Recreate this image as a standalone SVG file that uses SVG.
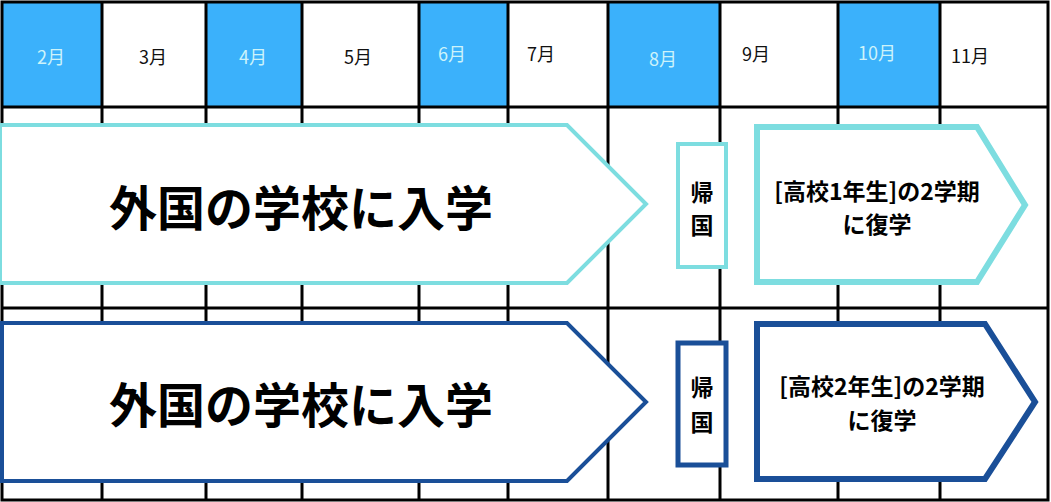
<svg xmlns="http://www.w3.org/2000/svg" width="1051" height="502" viewBox="0 0 1051 502">
<style>
.grid{stroke:#000;stroke-width:3;fill:none}
.hb{fill:#3bb1fb}
.m{font-family:"Noto Sans CJK JP","Noto Sans",sans-serif;font-size:18px;text-anchor:middle;dominant-baseline:central}
.mw{fill:#cdf3fa}
.mk{fill:#111}
.big{font-family:"Noto Sans CJK JP",sans-serif;font-size:48px;font-weight:700;text-anchor:middle;dominant-baseline:central;fill:#000}
.mid{font-family:"Noto Sans CJK JP",sans-serif;font-size:23px;font-weight:700;text-anchor:middle;dominant-baseline:central;fill:#000}
.c1{stroke:#7ddde0;fill:#fff}
.c2{stroke:#1a4f98;fill:#fff}
</style>
<rect x="0" y="0" width="1051" height="502" fill="#fff"/>
<g id="header">
<rect class="hb" x="2" y="2" width="100" height="105"/>
<rect class="hb" x="206" y="2" width="96" height="105"/>
<rect class="hb" x="419" y="2" width="89" height="105"/>
<rect class="hb" x="608" y="2" width="112" height="105"/>
<rect class="hb" x="837" y="2" width="102" height="105"/>
<text class="m mw" x="51" y="56">2月</text>
<text class="m mk" x="153" y="56">3月</text>
<text class="m mw" x="253" y="56">4月</text>
<text class="m mk" x="358" y="56">5月</text>
<text class="m mw" x="452" y="53">6月</text>
<text class="m mk" x="541" y="53">7月</text>
<text class="m mw" x="663" y="58">8月</text>
<text class="m mk" x="756" y="53">9月</text>
<text class="m mw" x="877" y="52">10月</text>
<text class="m mk" x="970" y="55">11月</text>
</g>
<g id="grid" class="grid">
<rect x="2" y="2" width="1046" height="498"/>
<line x1="2" y1="107" x2="1048" y2="107"/>
<line x1="2" y1="308" x2="1048" y2="308"/>
<line x1="102" y1="2" x2="102" y2="500"/>
<line x1="206" y1="2" x2="206" y2="500"/>
<line x1="302" y1="2" x2="302" y2="500"/>
<line x1="419" y1="2" x2="419" y2="500"/>
<line x1="508" y1="2" x2="508" y2="500"/>
<line x1="608" y1="2" x2="608" y2="500"/>
<line x1="720" y1="2" x2="720" y2="500"/>
<line x1="838" y1="2" x2="838" y2="500"/>
<line x1="940" y1="2" x2="940" y2="500"/>
</g>
<g id="row1-abroad">
<polygon class="c1" stroke-width="4" points="0,125 567,125 646,204 567,283 0,283"/>
<text class="big" x="301" y="205">外国の学校に入学</text>
</g>
<g id="row1-return">
<rect class="c1" stroke-width="4" x="678" y="144" width="48" height="123"/>
<text class="mid" x="702" y="191">帰</text>
<text class="mid" x="702" y="224">国</text>
</g>
<g id="row1-resume">
<polygon class="c1" stroke-width="6" points="757,127 977,127 1025,205 977,282 757,282"/>
<text class="mid" x="877" y="190">[高校1年生]の2学期</text>
<text class="mid" x="877" y="223">に復学</text>
</g>
<g id="row2-abroad">
<polygon class="c2" stroke-width="4" points="2,323 567,323 646,402 567,481 2,481"/>
<text class="big" x="301" y="402">外国の学校に入学</text>
</g>
<g id="row2-return">
<rect class="c2" stroke-width="5" x="678" y="343" width="48" height="122"/>
<text class="mid" x="702" y="386">帰</text>
<text class="mid" x="702" y="421">国</text>
</g>
<g id="row2-resume">
<polygon class="c2" stroke-width="6" points="757,324 985,324 1035,402 985,479 757,479"/>
<text class="mid" x="882" y="385">[高校2年生]の2学期</text>
<text class="mid" x="882" y="419">に復学</text>
</g>
<g id="connectors"></g>
</svg>
